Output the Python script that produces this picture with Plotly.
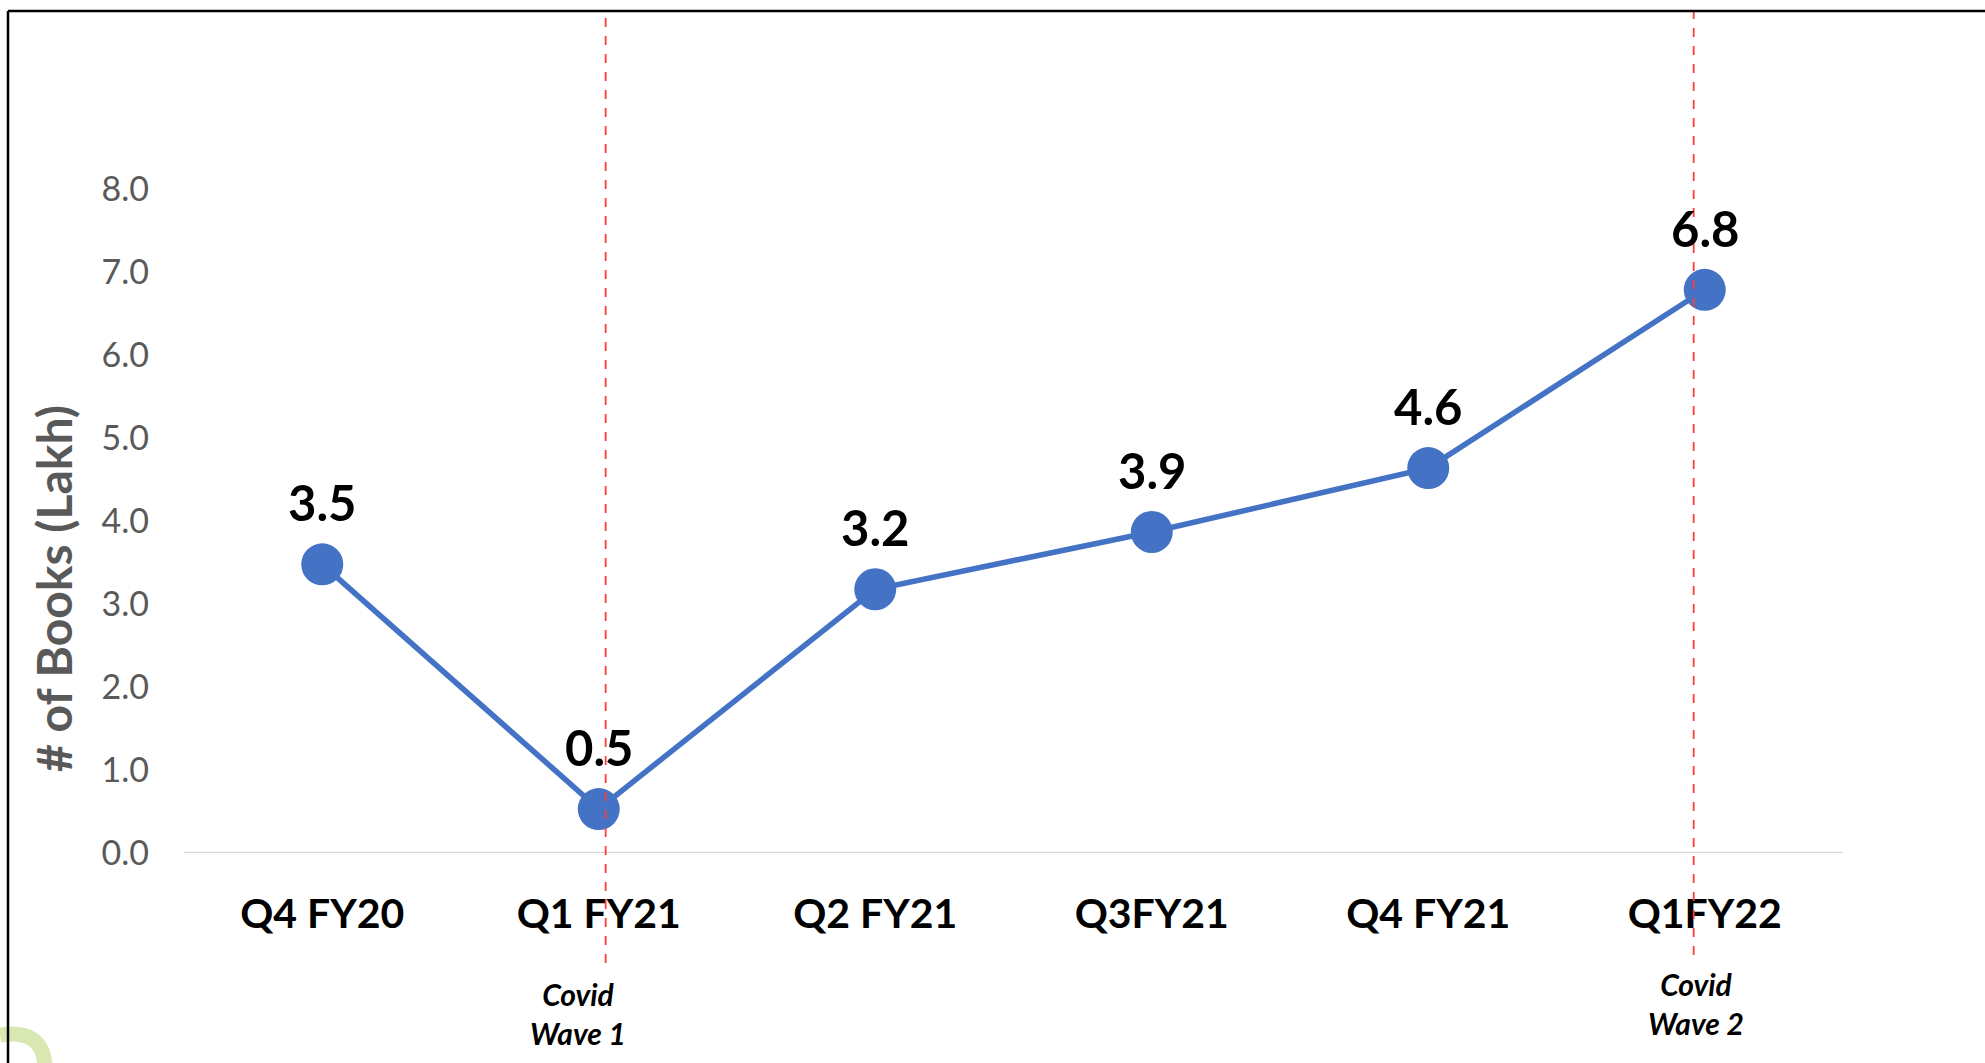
import plotly.graph_objects as go

categories = ["Q4 FY20", "Q1 FY21", "Q2 FY21", "Q3FY21", "Q4 FY21", "Q1FY22"]
books_lakh = [3.48, 0.53, 3.18, 3.87, 4.64, 6.79]
y_ticks = [0, 1, 2, 3, 4, 5, 6, 7, 8]
events = [("Q1 FY21", 0.025, "Covid<br>Wave 1"), ("Q1FY22", -0.04, "Covid<br>Wave 2")]

W, H = 1985, 1063
L, R, T, B = 184, 142, 65, 210
PW, PH = W - L - R, H - T - B


def px(x):
    return (x - L) / PW


def py(y):
    return (H - B - y) / PH


FONT = "Lato"

fig = go.Figure()
fig.add_trace(go.Scatter(
    x=list(range(len(categories))), y=books_lakh,
    mode="lines+markers",
    line=dict(color="#4472C4", width=5.5),
    marker=dict(color="#4472C4", size=42),
    cliponaxis=False,
    hoverinfo="skip",
))

annotations = []
for i, v in enumerate(books_lakh):
    annotations.append(dict(
        x=i, y=v, xref="x", yref="y", text=f"<b>{v:.1f}</b>", showarrow=False,
        yshift=62, yanchor="middle", font=dict(family=FONT, size=49, color="black"),
    ))

shapes = []
label_y = {"Covid<br>Wave 1": 1013, "Covid<br>Wave 2": 1003}
line_bottom = {"Covid<br>Wave 1": 963, "Covid<br>Wave 2": 955}
for cat, off, txt in events:
    xi = categories.index(cat) + off
    shapes.append(dict(type="line", xref="x", yref="paper", x0=xi, x1=xi,
                       y0=py(line_bottom[txt]), y1=py(12),
                       line=dict(color="#FF3B3B", width=1.8, dash="dash")))
    annotations.append(dict(
        x=categories.index(cat) - 0.075 if off > 0 else categories.index(cat) - 0.03,
        y=py(label_y[txt]), xref="x", yref="paper",
        text=f"<b><i>{txt}</i></b>", showarrow=False, yanchor="middle",
        font=dict(family=FONT, size=30, color="black"),
    ))

# y-axis title
annotations.append(dict(
    x=px(53), y=py(589), xref="paper", yref="paper", text="<b># of Books (Lakh)</b>",
    textangle=-90, showarrow=False, xanchor="center", yanchor="middle",
    font=dict(family=FONT, size=48, color="#595959"),
))

# baseline
shapes.append(dict(type="line", xref="paper", yref="y", x0=0, x1=1, y0=0, y1=0,
                   line=dict(color="#D9D9D9", width=2.5), layer="below"))
# border
shapes.append(dict(type="line", xref="paper", yref="paper", x0=px(8), x1=px(W + 5),
                   y0=py(11), y1=py(11), line=dict(color="black", width=2.5)))
shapes.append(dict(type="line", xref="paper", yref="paper", x0=px(8), x1=px(8),
                   y0=py(11), y1=py(H + 5), line=dict(color="black", width=2.5)))
# logo fragment (bottom-left)
shapes.append(dict(type="path", xref="paper", yref="paper",
                   path=f"M {px(0)},{py(1035)} Q {px(44)},{py(1028)} {px(45)},{py(1068)}",
                   line=dict(color="#D9E7B3", width=15), layer="below"))

fig.update_layout(
    width=W, height=H,
    margin=dict(l=L, r=R, t=T, b=B, autoexpand=False),
    paper_bgcolor="white", plot_bgcolor="white",
    showlegend=False,
    xaxis=dict(
        range=[-0.5, len(categories) - 0.5],
        tickmode="array", tickvals=list(range(len(categories))),
        ticktext=[f"<b>{c}</b>" for c in categories],
        tickfont=dict(family=FONT, size=41, color="black"),
        showgrid=False, zeroline=False, showline=False, ticks="",
        ticklabelstandoff=33,
    ),
    yaxis=dict(
        range=[0, 9.5],
        tickmode="array", tickvals=y_ticks,
        ticktext=[f"{t:.1f}" for t in y_ticks],
        tickfont=dict(family=FONT, size=34, color="#595959"),
        showgrid=False, zeroline=False, showline=False, ticks="",
        ticklabelstandoff=34,
    ),
    shapes=shapes,
    annotations=annotations,
)

fig.write_html("out.html", config={"displayModeBar": False},
               post_script="document.body.style.margin='0';document.body.style.overflow='hidden';")
